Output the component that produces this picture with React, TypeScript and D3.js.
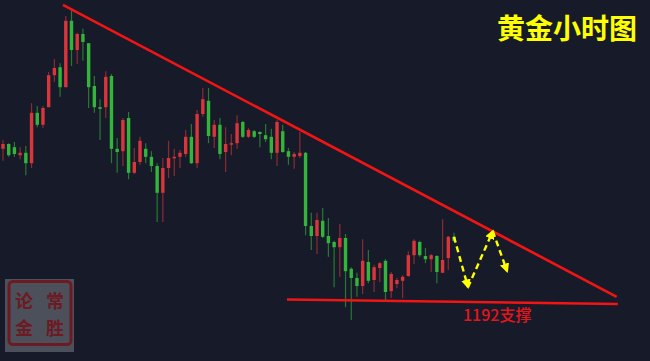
import React from "react";
import * as d3 from "d3";

// Hourly gold candles: [open, high, low, close]
const candles: [number, number, number, number][] = [
  [1210.9, 1212.0, 1209.4, 1211.5],
  [1211.5, 1211.6, 1209.9, 1210.1],
  [1211.1, 1211.75, 1209.9, 1210.25],
  [1210.1, 1211.1, 1209.6, 1210.4],
  [1210.4, 1211.25, 1207.6, 1209.1],
  [1209.1, 1216.6, 1208.5, 1215.4],
  [1215.4, 1216.25, 1213.6, 1213.9],
  [1213.9, 1216.25, 1213.5, 1216.0],
  [1216.1, 1220.5, 1216.1, 1220.1],
  [1220.1, 1222.1, 1219.25, 1221.0],
  [1221.1, 1221.6, 1217.4, 1218.6],
  [1218.6, 1227.5, 1218.6, 1226.9],
  [1226.9, 1228.25, 1221.25, 1223.25],
  [1223.25, 1225.4, 1221.5, 1225.25],
  [1225.25, 1225.9, 1221.9, 1224.25],
  [1224.1, 1224.1, 1216.0, 1218.6],
  [1218.75, 1220.0, 1215.4, 1216.1],
  [1216.1, 1217.1, 1212.0, 1215.9],
  [1216.1, 1220.6, 1214.75, 1219.9],
  [1220.0, 1220.25, 1209.1, 1210.9],
  [1210.9, 1212.25, 1207.9, 1210.5],
  [1210.6, 1214.75, 1208.75, 1214.5],
  [1214.75, 1215.5, 1207.1, 1207.9],
  [1207.9, 1211.0, 1207.75, 1209.25],
  [1209.25, 1212.4, 1208.9, 1211.9],
  [1210.9, 1211.6, 1209.1, 1209.9],
  [1209.9, 1210.6, 1208.0, 1208.75],
  [1208.75, 1209.1, 1201.75, 1205.4],
  [1205.4, 1209.75, 1201.75, 1208.5],
  [1208.5, 1211.9, 1207.25, 1209.75],
  [1209.75, 1210.9, 1207.5, 1209.9],
  [1209.9, 1210.75, 1208.5, 1210.4],
  [1210.25, 1213.25, 1209.9, 1212.4],
  [1212.4, 1214.0, 1209.0, 1209.1],
  [1209.1, 1215.75, 1208.5, 1215.25],
  [1215.25, 1218.5, 1214.9, 1217.1],
  [1216.9, 1218.5, 1211.6, 1212.5],
  [1212.4, 1214.5, 1211.0, 1213.9],
  [1213.9, 1214.75, 1209.6, 1210.25],
  [1210.5, 1213.6, 1208.0, 1211.5],
  [1211.5, 1212.75, 1210.1, 1211.6],
  [1211.6, 1215.1, 1210.9, 1214.1],
  [1214.25, 1214.4, 1212.25, 1212.4],
  [1212.4, 1213.5, 1212.25, 1213.25],
  [1213.1, 1213.25, 1212.25, 1212.4],
  [1213.0, 1213.1, 1211.1, 1212.75],
  [1212.6, 1214.0, 1211.75, 1212.1],
  [1212.4, 1213.4, 1209.6, 1210.4],
  [1210.4, 1214.5, 1208.75, 1214.25],
  [1213.1, 1213.9, 1210.4, 1210.5],
  [1210.6, 1211.0, 1208.9, 1209.9],
  [1209.9, 1210.5, 1208.4, 1210.25],
  [1210.0, 1213.0, 1209.75, 1210.4],
  [1210.4, 1210.5, 1200.1, 1201.25],
  [1201.25, 1202.9, 1198.25, 1200.0],
  [1200.0, 1202.9, 1197.75, 1202.0],
  [1201.9, 1203.5, 1199.75, 1199.9],
  [1200.0, 1202.25, 1197.4, 1199.1],
  [1199.25, 1199.4, 1193.6, 1198.6],
  [1198.6, 1201.5, 1194.9, 1199.75],
  [1199.75, 1200.25, 1191.1, 1195.6],
  [1195.9, 1196.1, 1189.5, 1194.75],
  [1194.75, 1195.4, 1192.4, 1193.75],
  [1193.75, 1199.6, 1192.75, 1196.9],
  [1196.75, 1198.25, 1194.1, 1194.4],
  [1194.5, 1196.4, 1193.0, 1196.1],
  [1196.0, 1196.75, 1194.25, 1196.6],
  [1196.9, 1197.1, 1192.0, 1193.0],
  [1193.1, 1195.5, 1192.25, 1195.25],
  [1194.0, 1194.75, 1193.5, 1194.5],
  [1194.4, 1195.1, 1192.25, 1194.9],
  [1195.0, 1198.1, 1194.9, 1197.6],
  [1197.6, 1199.6, 1196.5, 1199.4],
  [1199.25, 1199.4, 1197.4, 1197.6],
  [1197.5, 1198.5, 1196.6, 1197.1],
  [1197.1, 1197.75, 1195.5, 1197.6],
  [1197.5, 1197.6, 1194.1, 1195.5],
  [1195.4, 1202.1, 1195.4, 1197.0],
  [1197.25, 1200.0, 1195.75, 1199.9],
  [1199.9, 1200.4, 1199.25, 1199.4],
];

// Trendlines: [candle index, price]
const resistanceLine: [number, number][] = [
  [10.5, 1228.9],
  [107.5, 1192.4],
];
const supportLine: [number, number][] = [
  [49.75, 1192.06],
  [107.7, 1191.5],
];

// Projected path (yellow dashed arrows): [candle index, price]
const projection: [number, number][] = [
  [79, 1199.9],
  [81.45, 1193.6],
  [85.8, 1200.6],
  [88.3, 1195.6],
];

const titleText = "黄金小时图";
const supportLabel = "1192支撑";
const stampChars = ["论", "常", "金", "胜"];

const W = 650;
const H = 361;
const BG = "#171b29";
const UP = "#d9353b";
const DOWN = "#33b53c";
const LINE_RED = "#f31414";
const YELLOW = "#ffff00";
const STAMP_RED = "#6e1a22";

export default function App() {
  const x = d3.scaleLinear().domain([0, candles.length - 1]).range([3, 454]);
  const y = d3.scaleLinear().domain([1184.375, 1229.5]).range([H, 0]);
  const line = d3
    .line<[number, number]>()
    .x((d) => x(d[0]))
    .y((d) => y(d[1]));

  const bodyW = 3.4;

  const segs: [[number, number], [number, number]][] = [];
  for (let i = 0; i < projection.length - 1; i++) {
    segs.push([projection[i], projection[i + 1]]);
  }

  const font = "'Noto Sans CJK SC', 'Noto Sans', sans-serif";

  return (
    <div style={{ width: W, height: H, overflow: "hidden" }}>
      <style>{`body{margin:0;background:${BG};}`}</style>
      <svg width={W} height={H} style={{ display: "block" }}>
        <defs>
          <marker
            id="arrowY"
            viewBox="0 0 10 10"
            refX="8"
            refY="5"
            markerWidth="4"
            markerHeight="4"
            markerUnits="strokeWidth"
            orient="auto"
          >
            <path d="M0,0 L10,5 L0,10 Z" fill={YELLOW} />
          </marker>
        </defs>
        <rect x={0} y={0} width={W} height={H} fill={BG} />

        {/* candles */}
        {candles.map((c, i) => {
          const [o, h, l, cl] = c;
          const up = cl >= o;
          const col = up ? UP : DOWN;
          const cx = x(i);
          const top = y(Math.max(o, cl));
          const bot = y(Math.min(o, cl));
          return (
            <g key={i}>
              <line
                x1={cx}
                x2={cx}
                y1={y(h)}
                y2={y(l)}
                stroke={col}
                strokeOpacity={0.6}
                strokeWidth={1.2}
              />
              <rect
                x={cx - bodyW / 2}
                y={top}
                width={bodyW}
                height={Math.max(1.5, bot - top)}
                fill={col}
              />
            </g>
          );
        })}

        {/* trendlines */}
        <path d={line(resistanceLine) || ""} stroke={LINE_RED} strokeWidth={2.6} fill="none" />
        <path d={line(supportLine) || ""} stroke={LINE_RED} strokeWidth={2.6} fill="none" />

        {/* projected moves */}
        {segs.map((s, i) => (
          <path
            key={i}
            d={line(s) || ""}
            stroke={YELLOW}
            strokeWidth={2.4}
            strokeDasharray="6,4"
            fill="none"
            markerEnd="url(#arrowY)"
          />
        ))}

        {/* title */}
        <text
          x={497}
          y={39}
          fill={YELLOW}
          fontSize={28}
          fontWeight="bold"
          fontFamily={font}
        >
          {titleText}
        </text>

        {/* support label */}
        <text
          x={463}
          y={321}
          fill="#e8141c"
          fontSize={16}
          fontWeight={500}
          fontFamily={font}
        >
          {supportLabel}
        </text>

        {/* stamp */}
        <g>
          <rect x={5} y={279} width={69} height={73} fill="#4b505b" />
          <rect
            x={9}
            y={281.5}
            width={62}
            height={63}
            rx={4}
            fill="none"
            stroke={STAMP_RED}
            strokeWidth={3}
          />
          {stampChars.map((ch, i) => (
            <text
              key={i}
              x={i % 2 === 0 ? 24 : 55}
              y={i < 2 ? 308 : 335}
              textAnchor="middle"
              fill={STAMP_RED}
              fontSize={18}
              fontWeight="bold"
              fontFamily={font}
            >
              {ch}
            </text>
          ))}
        </g>
      </svg>
    </div>
  );
}
